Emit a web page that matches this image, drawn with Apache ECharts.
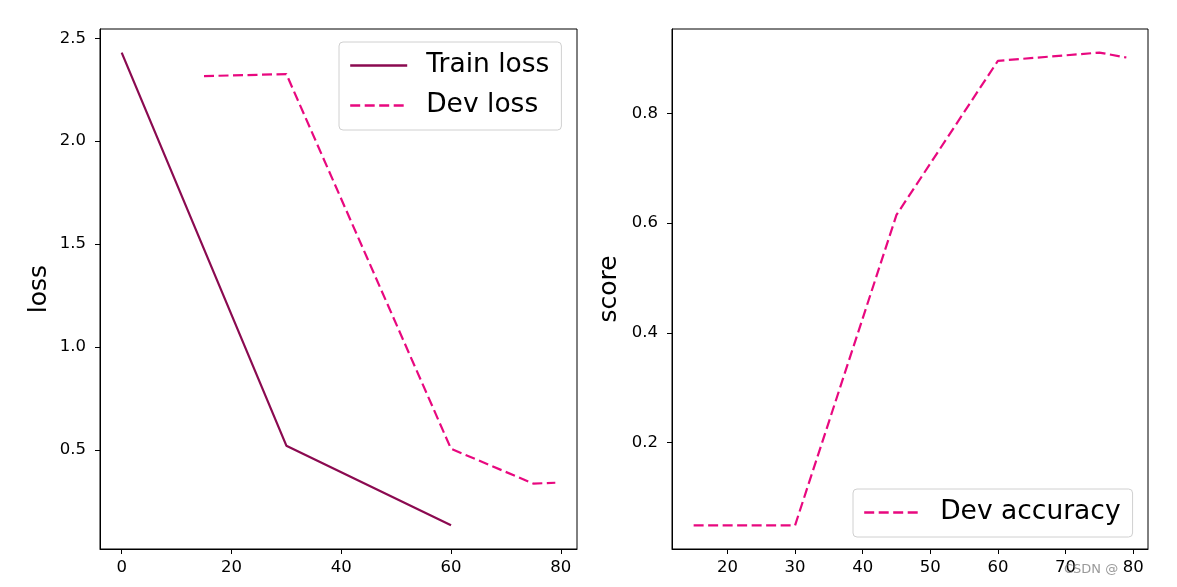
<!DOCTYPE html>
<html><head><meta charset="utf-8">
<script src="https://cdn.jsdelivr.net/npm/echarts@6/dist/echarts.min.js"></script>
<style>html,body{margin:0;padding:0;background:#fff}#c{width:1177px;height:587px}</style>
</head><body><div id="c"></div>
<script>
// ---- data ----
const trainX = [0, 30, 60];
const trainLoss = [2.43, 0.52, 0.133];
const devLossX = [15, 30, 60, 75, 79];
const devLoss = [2.316, 2.326, 0.505, 0.336, 0.34];
const devAccX = [15, 30, 45, 60, 75, 79];
const devAcc = [0.049, 0.049, 0.615, 0.896, 0.911, 0.902];
const lossXTicks = [0, 20, 40, 60, 80];
const lossYTicks = [0.5, 1.0, 1.5, 2.0, 2.5];
const accXTicks = [20, 30, 40, 50, 60, 70, 80];
const accYTicks = [0.2, 0.4, 0.6, 0.8];

const FONT = 'DejaVu Sans';
const DARK = '#8b0a50';
const PINK = '#e8087f';
const pairs = (xs, ys) => xs.map((x, i) => [x, ys[i]]);

function xAxis(grid, min, max, ticks) {
  return {
    type: 'value', gridIndex: grid, min: min, max: max,
    axisLine: {show: true, onZero: false, lineStyle: {color: '#000', width: 1}},
    splitLine: {show: false},
    axisTick: {show: true, length: 5, customValues: ticks, lineStyle: {color: '#000'}},
    axisLabel: {customValues: ticks, fontSize: 16.5, fontFamily: FONT, color: '#000', margin: 10}
  };
}
function yAxis(grid, min, max, ticks, name, gap) {
  return {
    type: 'value', gridIndex: grid, min: min, max: max,
    name: name, nameLocation: 'middle', nameGap: gap, nameRotate: 90,
    nameTextStyle: {fontSize: 25, fontFamily: FONT, color: '#000'},
    axisLine: {show: true, onZero: false, lineStyle: {color: '#000', width: 1}},
    splitLine: {show: false},
    axisTick: {show: true, length: 5, customValues: ticks, lineStyle: {color: '#000'}},
    axisLabel: {customValues: ticks, fontSize: 16.5, fontFamily: FONT, color: '#000', margin: 14,
      formatter: v => Number(v).toFixed(1)}
  };
}
function legend(names, left, top) {
  return {
    data: names, orient: 'vertical', left: left, top: top,
    itemWidth: 57, itemHeight: 20, itemGap: 13,
    padding: [10, 12, 11, 10], selectedMode: false,
    itemStyle: {opacity: 0},
    lineStyle: {width: 2.4},
    borderColor: '#d0d0d0', borderWidth: 1, borderRadius: 4, backgroundColor: '#fff',
    textStyle: {fontSize: 26.5, fontFamily: FONT, color: '#000', lineHeight: 27, padding: [0, 0, 0, 14]}
  };
}
function line(name, xi, data, color, dashed) {
  return {
    name: name, type: 'line', xAxisIndex: xi, yAxisIndex: xi, data: data,
    symbol: 'none', showSymbol: false,
    lineStyle: {color: color, width: 2.2, type: dashed ? [10, 4.5] : 'solid'},
    itemStyle: {color: color}
  };
}

const chart = echarts.init(document.getElementById('c'), null, {renderer: 'canvas'});
chart.setOption({
  animation: false,
  backgroundColor: '#fff',
  grid: [
    {left: 100, top: 29, width: 477, height: 520, show: true, borderColor: '#000', borderWidth: 1, backgroundColor: 'transparent'},
    {left: 672, top: 29, width: 476, height: 520, show: true, borderColor: '#000', borderWidth: 1, backgroundColor: 'transparent'}
  ],
  xAxis: [xAxis(0, -3.95, 82.95, lossXTicks), xAxis(1, 11.8, 82.2, accXTicks)],
  yAxis: [yAxis(0, 0.018, 2.545, lossYTicks, 'loss', 48), yAxis(1, 0.0059, 0.954, accYTicks, 'score', 50)],
  legend: [legend(['Train loss', 'Dev loss'], 339, 42), legend(['Dev accuracy'], 853, 489)],
  series: [
    line('Train loss', 0, pairs(trainX, trainLoss), DARK, false),
    line('Dev loss', 0, pairs(devLossX, devLoss), PINK, true),
    line('Dev accuracy', 1, pairs(devAccX, devAcc), PINK, true)
  ],
  graphic: [{type: 'text', left: 1064, top: 563, z: 100,
    style: {text: 'CSDN @', fill: 'rgba(110,110,110,0.7)', fontSize: 13, fontFamily: FONT}}]
});
</script>
</body></html>
